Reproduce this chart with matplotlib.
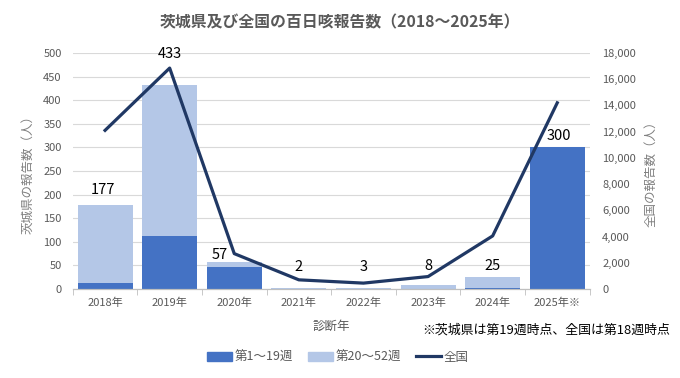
import numpy as np
import matplotlib
matplotlib.use('Agg')
import matplotlib.pyplot as plt
from matplotlib.ticker import FuncFormatter
from matplotlib.lines import Line2D
from matplotlib.patches import Patch

plt.rcParams['font.family'] = ['Noto Sans CJK JP', 'DejaVu Sans']

# データ
years = ['2018年', '2019年', '2020年', '2021年', '2022年', '2023年', '2024年', '2025年※']
early = [12, 112, 46, 0, 0, 1, 3, 300]      # 第1～19週
late = [165, 321, 11, 2, 3, 7, 22, 0]       # 第20～52週
totals = [177, 433, 57, 2, 3, 8, 25, 300]
national = [12100, 16850, 2700, 700, 450, 950, 4050, 14200]
# 合計ラベルの位置（手で配置されている）
label_y = [210, 498, 72, 47, 47, 49, 49, 324]
label_dx = [-0.03, 0, -0.23, 0, 0, 0, 0, 0.02]

c_dark = '#4472C4'
c_light = '#B4C7E7'
c_line = '#203864'
c_text = '#595959'

fig = plt.figure(figsize=(6.8, 3.78), dpi=100)
ax = fig.add_axes([0.107, 0.2354, 0.76, 0.6244])
ax2 = ax.twinx()

x = np.arange(len(years))
ax.bar(x, early, width=0.85, color=c_dark, zorder=2)
ax.bar(x, late, width=0.85, bottom=early, color=c_light, zorder=2)

ax2.plot(x, national, color=c_line, linewidth=2.3, zorder=3)

# ラベルは線より上に
for xi, t, ly, dx in zip(x, totals, label_y, label_dx):
    ax2.text(xi + dx, ly, str(t), transform=ax.transData, ha='center', va='center',
             fontsize=10.5, color='black', zorder=5)

ax.set_xlim(-0.5, len(years) - 0.5)
ax.set_ylim(0, 500)
ax.set_yticks(np.arange(0, 501, 50))
ax2.set_ylim(0, 18000)
ax2.set_yticks(np.arange(0, 18001, 2000))
ax2.yaxis.set_major_formatter(FuncFormatter(lambda v, p: f'{int(v):,}'))

ax.set_xticks(x)
ax.set_xticklabels(years)
ax.set_xticks(np.arange(-0.5, len(years), 1), minor=True)
ax.tick_params(axis='x', which='major', length=0, labelsize=8, colors=c_text, pad=6)
ax.tick_params(axis='x', which='minor', length=4, color='#BFBFBF')
ax.tick_params(axis='y', length=0, labelsize=8, colors=c_text, pad=8)
ax2.tick_params(axis='y', length=0, labelsize=8, colors=c_text, pad=9)

ax.grid(axis='y', color='#D9D9D9', linewidth=0.8, zorder=0)
ax.set_axisbelow(True)
for a in (ax, ax2):
    for s in ['top', 'left', 'right']:
        a.spines[s].set_visible(False)
    a.spines['bottom'].set_color('#BFBFBF')

ax.set_ylabel('茨城県の報告数（人）', fontsize=9, color='#7F7F7F', labelpad=6)
ax2.set_ylabel('全国の報告数（人）', fontsize=9, color='#7F7F7F', rotation=90, labelpad=6)
ax.set_xlabel('診断年', fontsize=9, color=c_text, labelpad=9)

fig.text(0.5, 0.942, '茨城県及び全国の百日咳報告数（2018～2025年）', ha='center', va='center',
         fontsize=11.4, fontweight='bold', color=c_text)
fig.text(0.985, 0.127, '※茨城県は第19週時点、全国は第18週時点', ha='right', va='center',
         fontsize=9.3, color='black')

handles = [Patch(color=c_dark), Patch(color=c_light), Line2D([], [], color=c_line, linewidth=2.3)]
fig.legend(handles, ['第1～19週', '第20～52週', '全国'], loc='center', bbox_to_anchor=(0.497, 0.055),
           ncol=3, frameon=False, fontsize=9, labelcolor=c_text, handlelength=2.0, handleheight=0.7,
           handletextpad=0.2, columnspacing=1.2)

fig.savefig('out.png', dpi=100)
